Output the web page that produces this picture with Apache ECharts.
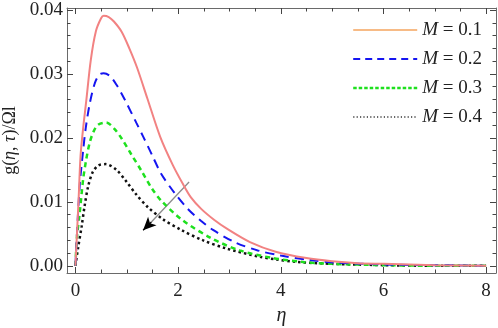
<!DOCTYPE html>
<html>
<head>
<meta charset="utf-8">
<script src="https://cdn.jsdelivr.net/npm/echarts@6/dist/echarts.min.js"></script>
<style>
html,body{margin:0;padding:0;background:#fff;}
#c{width:498px;height:328px;}
</style>
</head>
<body>
<div id="c"></div>
<script>
// ---- data ----
const seriesNames = ['M = 0.1', 'M = 0.2', 'M = 0.3', 'M = 0.4'];

const eta1 = [0, 0.03, 0.06, 0.1, 0.15, 0.21, 0.3, 0.4, 0.5, 0.55, 0.65, 0.75, 0.9, 1.05, 1.2, 1.4, 1.65, 1.9, 2.1, 2.25, 2.45, 2.7, 2.95, 3.4, 3.9, 4.5, 5, 5.5, 6, 7, 8];
const g1   = [0, 0.005, 0.010, 0.0172, 0.0215, 0.0257, 0.0322, 0.0367, 0.0387, 0.0391, 0.0389, 0.0382, 0.0366, 0.0340, 0.0310, 0.0262, 0.0202, 0.0157, 0.0127, 0.0107, 0.0089, 0.0072, 0.0058, 0.0037, 0.0022, 0.0012, 0.0007, 0.0004, 0.0003, 0.0001, 0.0000];

const eta2 = [0, 0.03, 0.06, 0.09, 0.15, 0.2, 0.28, 0.38, 0.47, 0.55, 0.67, 0.8, 0.96, 1.19, 1.32, 1.5, 1.67, 1.93, 2.2, 2.45, 2.68, 3.1, 3.55, 4.0, 4.56, 5.08, 6, 7, 8];
const g2   = [0, 0.005, 0.0095, 0.0132, 0.0180, 0.0215, 0.0254, 0.0286, 0.0299, 0.0301, 0.0297, 0.0283, 0.0260, 0.0223, 0.0202, 0.0172, 0.0144, 0.0114, 0.0088, 0.0070, 0.0056, 0.0037, 0.0024, 0.0016, 0.0009, 0.0005, 0.0002, 0.0001, 0];

const eta3 = [0, 0.03, 0.08, 0.15, 0.21, 0.28, 0.36, 0.45, 0.6, 0.75, 0.9, 1.09, 1.29, 1.48, 1.68, 2.09, 2.65, 3.2, 3.85, 4.43, 5, 6, 7, 8];
const g3   = [0, 0.0045, 0.0080, 0.0135, 0.0166, 0.0193, 0.0211, 0.0221, 0.0224, 0.0215, 0.0199, 0.0174, 0.0148, 0.0122, 0.0101, 0.0071, 0.0043, 0.0024, 0.0012, 0.0006, 0.0003, 0.0001, 0, 0];

const eta4 = [0, 0.05, 0.12, 0.18, 0.25, 0.34, 0.45, 0.59, 0.8, 0.99, 1.19, 1.42, 1.7, 2.06, 2.48, 2.94, 3.59, 3.91, 4.3, 5, 6, 7, 8];
const g4   = [0, 0.0027, 0.0061, 0.0094, 0.0125, 0.0147, 0.0157, 0.0159, 0.0150, 0.0132, 0.0111, 0.0091, 0.0073, 0.0056, 0.0040, 0.0027, 0.0014, 0.0010, 0.0006, 0.0003, 0.0001, 0, 0];

const xMajor = [0, 2, 4, 6, 8];
const xMinor = [0.5, 1, 1.5, 2.5, 3, 3.5, 4.5, 5, 5.5, 6.5, 7, 7.5];
const yMajor = [0, 0.01, 0.02, 0.03, 0.04];
const yMinor = [0.002, 0.004, 0.006, 0.008, 0.012, 0.014, 0.016, 0.018, 0.022, 0.024, 0.026, 0.028, 0.032, 0.034, 0.036, 0.038];
const xRange = [-0.164, 8.193];
const yRange = [-0.00113, 0.04031];

// arrow annotation (data coordinates)
const arrowStart = [2.214, 0.01311];
const arrowHeadStart = [1.48, 0.00685];
const arrowTip = [1.318, 0.00556];

// ---- chart ----
const zip = (a, b) => a.map((v, i) => [v, b[i]]);
const serif = 'Liberation Serif';
const frameColor = '#6a6a6a';
const tickColor = '#444';

function xAx(pos, gridIndex, ticks, len, labels, line) {
  return {
    type: 'value', gridIndex: gridIndex, position: pos,
    min: xRange[0], max: xRange[1],
    axisLine: { show: line, onZero: false, lineStyle: { color: frameColor, width: 1 } },
    axisTick: { show: true, inside: true, length: len, customValues: ticks, lineStyle: { color: tickColor, width: 1 } },
    axisLabel: labels ? { show: true, customValues: ticks, fontFamily: serif, fontSize: 19, color: '#222', margin: 9 } : { show: false },
    splitLine: { show: false }
  };
}
function yAx(pos, gridIndex, ticks, len, labels, line) {
  return {
    type: 'value', gridIndex: gridIndex, position: pos,
    min: yRange[0], max: yRange[1],
    axisLine: { show: line, onZero: false, lineStyle: { color: frameColor, width: 1 } },
    axisTick: { show: true, inside: true, length: len, customValues: ticks, lineStyle: { color: tickColor, width: 1 } },
    axisLabel: labels ? { show: true, customValues: ticks, fontFamily: serif, fontSize: 19, color: '#222', margin: 4,
      formatter: v => v.toFixed(2) } : { show: false },
    splitLine: { show: false }
  };
}

const gridRect = { left: 67, top: 8, width: 429, height: 265, outerBoundsMode: 'none', containLabel: false };

const xAxes = [
  xAx('bottom', 0, xMajor, 6, true, true),
  xAx('top', 0, xMajor, 6, false, true),
  xAx('bottom', 1, xMinor, 3.5, false, false),
  xAx('top', 1, xMinor, 3.5, false, false)
];
xAxes[0].name = 'η';
xAxes[0].nameLocation = 'middle';
xAxes[0].nameGap = 32;
xAxes[0].nameTextStyle = { fontFamily: serif, fontStyle: 'italic', fontSize: 20, color: '#222' };

const yAxes = [
  yAx('left', 0, yMajor, 6, true, true),
  yAx('right', 0, yMajor, 6, false, true),
  yAx('left', 1, yMinor, 3.5, false, false),
  yAx('right', 1, yMinor, 3.5, false, false)
];
yAxes[0].name = '{a|g(}{b|η}{a|, }{b|τ}{a|)/Ωl}';
yAxes[0].nameLocation = 'middle';
yAxes[0].nameGap = 44;
yAxes[0].nameTextStyle = { color: '#222', fontFamily: serif, fontSize: 18,
  rich: { a: { fontFamily: serif, fontSize: 18, color: '#222' }, b: { fontFamily: serif, fontSize: 18, fontStyle: 'italic', color: '#222' } } };

const colors = ['#f28282', '#1515f0', '#1ee01e', '#111111'];
const dashes = ['solid', [9, 6], [5, 4], [2.5, 3]];
const widths = [2, 2, 2.5, 2.5];
const datas = [zip(eta1, g1), zip(eta2, g2), zip(eta3, g3), zip(eta4, g4)];

const series = datas.map((d, i) => ({
  name: seriesNames[i], type: 'line', xAxisIndex: 0, yAxisIndex: 0,
  data: d, smooth: 0.3, symbol: 'none', showSymbol: false,
  lineStyle: { color: colors[i], width: widths[i], type: dashes[i] },
  itemStyle: { color: colors[i] },
  z: 10 - i,
  emphasis: { disabled: true }
}));
series[3].markLine = {
  silent: true, animation: false,
  label: { show: false },
  emphasis: { disabled: true },
  data: [
    [{ coord: arrowStart, symbol: 'none', lineStyle: { color: '#8c8c8c', width: 1.3, type: 'solid' } },
     { coord: arrowHeadStart, symbol: 'none' }],
    [{ coord: arrowHeadStart, symbol: 'none', lineStyle: { color: '#000', width: 1.3, type: 'solid' } },
     { coord: arrowTip, symbol: 'arrow', symbolSize: [9, 13] }]
  ]
};

const legendLine = [
  { color: '#f5a45e', width: 1.5, type: 'solid' },
  { color: '#1515f0', width: 2, type: [7, 5] },
  { color: '#1ee01e', width: 2.5, type: [3.5, 2] },
  { color: '#333', width: 1.5, type: [1.2, 2.2] }
];

const option = {
  animation: false,
  backgroundColor: '#fff',
  grid: [Object.assign({}, gridRect), Object.assign({}, gridRect)],
  xAxis: xAxes,
  yAxis: yAxes,
  legend: {
    show: true,
    orient: 'vertical', right: 11, top: 15,
    itemWidth: 64, itemHeight: 14, itemGap: 9, itemTextGap: 5,
    selectedMode: false,
    data: seriesNames.map((n, i) => ({ name: n, lineStyle: legendLine[i],
      itemStyle: { color: 'rgba(0,0,0,0)', borderColor: 'rgba(0,0,0,0)', borderWidth: 0 } })),
    formatter: name => name.replace('M', '{i|M}'),
    textStyle: { fontFamily: serif, fontSize: 19, color: '#222', lineHeight: 20,
      rich: { i: { fontFamily: serif, fontSize: 19, fontStyle: 'italic', color: '#222' } } }
  },
  series: series
};

const chart = echarts.init(document.getElementById('c'), null, { renderer: 'canvas' });
chart.setOption(option);
</script>
</body>
</html>
